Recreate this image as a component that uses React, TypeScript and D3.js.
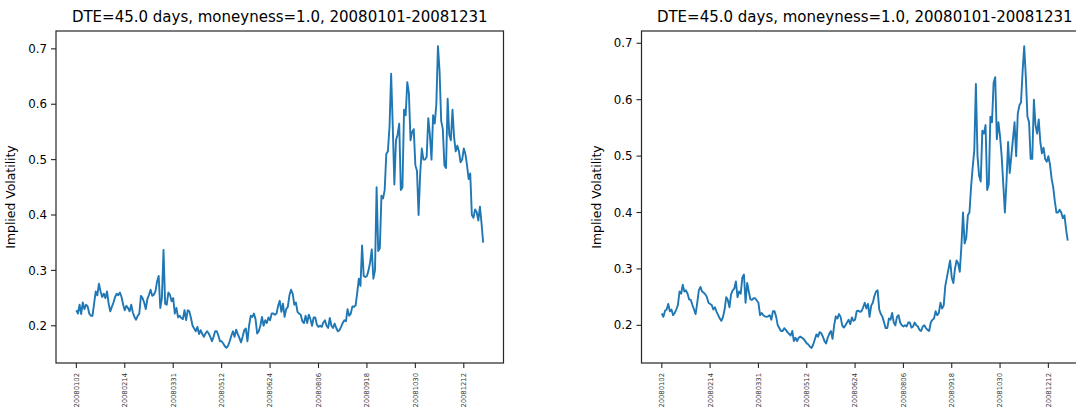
import React from "react";
import * as d3 from "d3";

// trading-day labels shown on the x axis (every 30th session)
const tickDates = ["20080102", "20080214", "20080331", "20080512", "20080624", "20080806", "20080918", "20081030", "20081212"];
const tickEvery = 30;
const yTicks = [0.2, 0.3, 0.4, 0.5, 0.6, 0.7];
const title = "DTE=45.0 days, moneyness=1.0, 20080101-20081231";

// left panel: implied vol, one value per trading day
const ivLeft = [
  0.228, 0.222, 0.238, 0.221, 0.242, 0.230, 0.238, 0.235, 0.222, 0.218,
  0.218, 0.240, 0.262, 0.255, 0.276, 0.262, 0.252, 0.258, 0.250, 0.262,
  0.240, 0.226, 0.234, 0.242, 0.252, 0.258, 0.255, 0.260, 0.252, 0.238,
  0.228, 0.236, 0.232, 0.226, 0.238, 0.224, 0.216, 0.211, 0.218, 0.222,
  0.254, 0.250, 0.242, 0.230, 0.248, 0.256, 0.265, 0.254, 0.256, 0.262,
  0.280, 0.290, 0.232, 0.250, 0.337, 0.240, 0.238, 0.260, 0.256, 0.244,
  0.250, 0.222, 0.232, 0.215, 0.218, 0.214, 0.212, 0.228, 0.210, 0.228,
  0.226, 0.214, 0.200, 0.195, 0.190, 0.198, 0.185, 0.192, 0.185, 0.180,
  0.186, 0.190, 0.186, 0.180, 0.172, 0.180, 0.190, 0.190, 0.182, 0.172,
  0.172, 0.168, 0.163, 0.160, 0.164, 0.172, 0.182, 0.190, 0.180, 0.193,
  0.185, 0.178, 0.170, 0.180, 0.192, 0.195, 0.172, 0.200, 0.218, 0.216,
  0.222, 0.212, 0.186, 0.190, 0.200, 0.216, 0.200, 0.210, 0.205, 0.215,
  0.210, 0.222, 0.222, 0.220, 0.222, 0.236, 0.245, 0.225, 0.240, 0.216,
  0.230, 0.234, 0.255, 0.265, 0.258, 0.238, 0.242, 0.225, 0.222, 0.220,
  0.208, 0.205, 0.218, 0.205, 0.220, 0.212, 0.200, 0.215, 0.215, 0.202,
  0.198, 0.200, 0.198, 0.206, 0.210, 0.200, 0.196, 0.214, 0.200, 0.196,
  0.204, 0.196, 0.190, 0.192, 0.198, 0.205, 0.210, 0.208, 0.230, 0.218,
  0.222, 0.235, 0.234, 0.237, 0.260, 0.285, 0.272, 0.345, 0.290, 0.288,
  0.290, 0.300, 0.315, 0.338, 0.285, 0.300, 0.450, 0.335, 0.340, 0.435,
  0.430, 0.445, 0.510, 0.515, 0.560, 0.655, 0.560, 0.455, 0.535, 0.545,
  0.565, 0.445, 0.450, 0.590, 0.580, 0.640, 0.620, 0.535, 0.550, 0.555,
  0.490, 0.480, 0.400, 0.475, 0.520, 0.500, 0.500, 0.505, 0.575, 0.545,
  0.500, 0.580, 0.565, 0.600, 0.705, 0.660, 0.570, 0.555, 0.490, 0.485,
  0.610, 0.545, 0.535, 0.590, 0.540, 0.515, 0.525, 0.515, 0.495, 0.500,
  0.520, 0.510, 0.490, 0.465, 0.475, 0.400, 0.395, 0.410, 0.405, 0.390,
  0.415, 0.385, 0.350,
];

// right panel: smoother version of the same surface slice
const ivRight = [
  0.221, 0.215, 0.226, 0.228, 0.238, 0.225, 0.228, 0.218, 0.222, 0.228,
  0.236, 0.260, 0.256, 0.272, 0.260, 0.262, 0.256, 0.246, 0.245, 0.236,
  0.228, 0.220, 0.240, 0.262, 0.268, 0.260, 0.258, 0.255, 0.250, 0.240,
  0.238, 0.236, 0.228, 0.232, 0.224, 0.218, 0.212, 0.208, 0.215, 0.228,
  0.250, 0.245, 0.232, 0.255, 0.262, 0.265, 0.278, 0.250, 0.260, 0.256,
  0.285, 0.290, 0.240, 0.275, 0.260, 0.246, 0.245, 0.248, 0.248, 0.244,
  0.240, 0.218, 0.222, 0.218, 0.216, 0.215, 0.216, 0.218, 0.210, 0.225,
  0.225, 0.215, 0.200, 0.195, 0.190, 0.190, 0.195, 0.192, 0.188, 0.185,
  0.182, 0.190, 0.172, 0.178, 0.172, 0.178, 0.180, 0.178, 0.176, 0.172,
  0.168, 0.166, 0.162, 0.160, 0.166, 0.175, 0.184, 0.180, 0.188, 0.186,
  0.180, 0.172, 0.168, 0.178, 0.185, 0.190, 0.176, 0.200, 0.216, 0.212,
  0.220, 0.215, 0.200, 0.196, 0.200, 0.205, 0.210, 0.202, 0.214, 0.208,
  0.210, 0.225, 0.226, 0.224, 0.225, 0.232, 0.240, 0.230, 0.238, 0.215,
  0.235, 0.240, 0.252, 0.260, 0.262, 0.228, 0.220, 0.215, 0.205, 0.195,
  0.195, 0.212, 0.210, 0.222, 0.205, 0.200, 0.215, 0.218, 0.205, 0.200,
  0.198, 0.200, 0.198, 0.205, 0.205, 0.196, 0.198, 0.205, 0.200, 0.198,
  0.192, 0.190, 0.198, 0.200, 0.195, 0.192, 0.190, 0.205, 0.210, 0.212,
  0.225, 0.218, 0.222, 0.240, 0.230, 0.235, 0.270, 0.285, 0.300, 0.315,
  0.285, 0.275, 0.300, 0.315, 0.310, 0.295, 0.340, 0.400, 0.345, 0.355,
  0.395, 0.400, 0.445, 0.480, 0.510, 0.628, 0.500, 0.465, 0.455, 0.545,
  0.540, 0.555, 0.440, 0.450, 0.570, 0.560, 0.630, 0.640, 0.530, 0.560,
  0.535, 0.500, 0.450, 0.400, 0.455, 0.525, 0.470, 0.500, 0.530, 0.560,
  0.500, 0.575, 0.590, 0.595, 0.650, 0.695, 0.640, 0.570, 0.560, 0.495,
  0.495, 0.600, 0.555, 0.540, 0.565, 0.525, 0.505, 0.515, 0.495, 0.490,
  0.500, 0.485, 0.460, 0.445, 0.420, 0.400, 0.400, 0.405, 0.400, 0.390,
  0.395, 0.370, 0.350,
];

const FONT = "DejaVu Sans, sans-serif";
const BLUE = "#1f77b4";
const INK = "#262626";

type PanelProps = { values: number[]; left: number; right: number; top: number; bottom: number };

function Panel({ values, left, right, top, bottom }: PanelProps) {
  const n = values.length;
  const xPad = (n - 1) * 0.05;
  const x = d3.scaleLinear().domain([-xPad, n - 1 + xPad]).range([left, right]);
  const [lo, hi] = d3.extent(values) as [number, number];
  const yPad = (hi - lo) * 0.05;
  const y = d3.scaleLinear().domain([lo - yPad, hi + yPad]).range([bottom, top]);
  const line = d3.line<number>().x((_, i) => x(i)).y(d => y(d));

  return (
    <g fontFamily={FONT}>
      <text x={(left + right) / 2} y={22} textAnchor="middle" fontSize={15} fill="#000">{title}</text>
      <path d={line(values) || ""} fill="none" stroke={BLUE} strokeWidth={1.9} strokeLinejoin="round" />
      <rect x={left} y={top} width={right - left} height={bottom - top} fill="none" stroke={INK} strokeWidth={1.2} />
      {yTicks.map(t => (
        <g key={t} transform={`translate(${left},${y(t)})`}>
          <line x1={-5} x2={0} stroke={INK} strokeWidth={1.1} />
          <text x={-9} dy="0.35em" textAnchor="end" fontSize={11.8} fill="#000">{t.toFixed(1)}</text>
        </g>
      ))}
      {tickDates.map((d, k) => (
        <g key={d} transform={`translate(${x(k * tickEvery)},${bottom})`}>
          <line y2={5} stroke={INK} strokeWidth={1.1} />
          <text transform="translate(0,10) rotate(-90)" dy="0.35em" textAnchor="end" fontSize={6.8} fill="#333">{d}</text>
        </g>
      ))}
      <text transform={`translate(${left - 41},${(top + bottom) / 2}) rotate(-90)`} textAnchor="middle" fontSize={12.4} fill="#000">Implied Volatility</text>
    </g>
  );
}

export default function App() {
  return (
    <svg width={1076} height={409} style={{ position: "absolute", left: 0, top: 0, background: "#fff" }}>
      <rect width={1076} height={409} fill="#fff" />
      <Panel values={ivLeft} left={56} right={503.5} top={31} bottom={363} />
      <Panel values={ivRight} left={641.5} right={1088} top={31} bottom={363} />
    </svg>
  );
}
